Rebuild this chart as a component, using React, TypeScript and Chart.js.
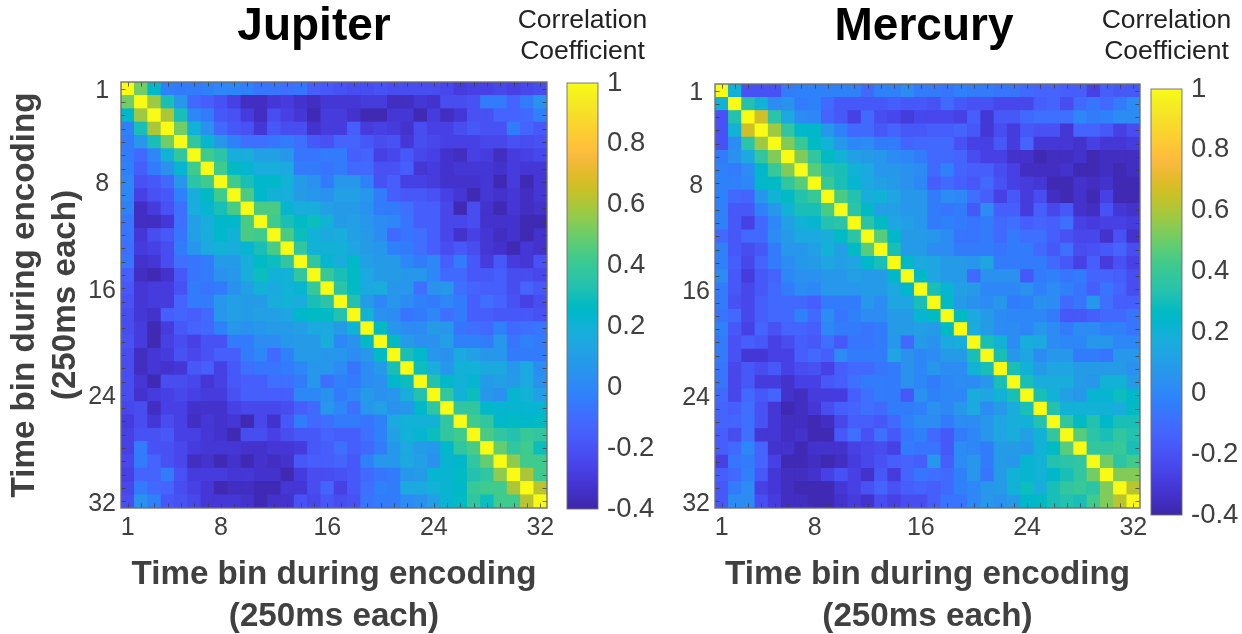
import React, { useEffect, useRef } from "react";
import { Chart, registerables } from "chart.js";

Chart.register(...registerables);

const timeBins = Array.from({ length: 32 }, (_, i) => i + 1);
const labelledBins = [1, 8, 16, 24, 32];
const diagonalValue = 100;
const colorbarTicks = { min: -0.4, max: 1, step: 0.2 };
const colorbarLabels = [-0.4, -0.2, 0, 0.2, 0.4, 0.6, 0.8, 1];
const axisTitleLines = ["Time bin during encoding", "(250ms each)"];
const colorbarTitleLines = ["Correlation", "Coefficient"];

// Upper triangle, hundredths: row i holds the correlation of bin i with bins i+1..32.
const jupiterUpper: number[][] = [
  [50,25,-2,-5,-3,-1,0,0,-2,-6,-6,-8,-7,-15,-18,-20,-22,-22,-20,-22,-22,-22,-22,-24,-28,-26,-26,-24,-26,-24,-22],
  [58,30,8,-10,-15,-20,-26,-34,-34,-30,-27,-33,-35,-31,-30,-30,-28,-28,-34,-34,-30,-33,-22,-22,-20,-5,-5,-12,-3,5],
  [60,30,0,-5,-18,-20,-27,-34,-22,-26,-30,-36,-28,-27,-33,-36,-36,-30,-30,-36,-28,-34,-30,-20,-20,-12,-12,-10,-2],
  [50,20,5,-10,-18,-20,-30,-18,-22,-22,-33,-27,-28,-14,-28,-26,-27,-32,-22,-25,-25,-22,-17,-20,-20,-5,-12,-17],
  [37,22,8,-2,-8,-9,-6,-5,-9,-16,-20,-12,-12,-18,-22,-20,-31,-22,-24,-25,-26,-25,-24,-24,-20,-22,-20],
  [42,36,18,18,12,12,8,-6,-6,-5,-4,-14,-13,-25,-24,-16,-24,-26,-33,-34,-26,-28,-34,-27,-26,-24],
  [42,27,22,18,18,15,-5,-5,-7,-5,-10,-10,-20,-20,-15,-30,-27,-32,-30,-30,-30,-32,-27,-31,-31],
  [42,32,25,25,20,10,5,-3,8,8,-2,-20,-14,-25,-26,-28,-32,-32,-32,-30,-36,-28,-36,-30],
  [45,25,20,18,10,8,5,12,12,6,-5,-15,-17,-16,-20,-26,-30,-37,-30,-33,-30,-35,-30],
  [45,45,22,18,18,12,10,10,5,-3,-3,-8,-14,-14,-23,-36,-22,-33,-36,-30,-34,-33],
  [43,30,27,28,20,10,12,8,2,1,-7,-14,-14,-24,-24,-22,-33,-33,-32,-37,-36],
  [45,28,20,15,17,12,10,3,-10,-6,-8,-14,-24,-33,-26,-30,-34,-32,-36,-33],
  [37,20,20,20,13,10,6,-2,-5,-8,-15,-22,-18,-22,-30,-33,-36,-30,-33],
  [38,22,18,24,12,9,9,0,-3,0,-14,-4,-16,-28,-16,-28,-30,-20],
  [40,30,27,15,10,9,7,6,0,-10,-10,-17,-17,-15,-22,-22,-24],
  [35,27,16,17,8,7,-8,5,6,-8,-13,-14,-14,-22,-12,-18],
  [34,9,0,6,3,-2,-3,0,-4,-14,-8,-12,-20,-25,-22],
  [20,5,3,-6,-3,0,-8,-3,-14,-14,-17,-18,-18,-20],
  [27,7,3,3,10,6,-7,-8,-10,-2,-10,-8,-7],
  [27,10,4,4,12,-2,-2,-5,8,-7,-1,-5],
  [30,24,7,5,16,12,7,8,-5,-5,-3],
  [28,18,8,20,20,16,15,7,15,3],
  [33,25,20,22,10,12,10,16,5],
  [38,20,28,8,5,22,20,12],
  [37,37,24,22,22,22,23],
  [42,38,25,27,24,26],
  [44,38,33,40,38],
  [48,38,42,28],
  [55,43,42],
  [60,42],
  [62],
];

const mercuryUpper: number[][] = [
  [20,-20,-20,-20,-4,-2,-1,-1,-2,-2,-10,-2,-2,3,-5,-5,-6,-2,-5,-4,-6,-6,-10,-13,-13,-15,-15,-25,-15,-16,-17],
  [34,20,2,4,-5,-2,-10,-16,-18,-16,-16,-14,-16,-16,-20,-10,-16,-20,-20,-23,-23,-23,-14,-12,-22,-10,-6,-11,-4,2],
  [65,35,16,3,0,-12,-16,-25,-10,-22,-24,-27,-24,-24,-24,-26,-14,-30,-18,-16,-10,-8,-9,-8,1,-3,-2,2,3],
  [58,38,24,24,6,-1,-10,-10,-17,-12,-16,-16,-14,-14,-13,-16,-30,-22,-28,-17,-20,-20,-30,-12,-12,-18,-25,-22],
  [52,40,27,20,6,0,2,-3,-5,-12,-10,-10,-10,-20,-25,-25,-18,-27,-12,-31,-31,-31,-32,-26,-30,-30,-28],
  [52,38,27,20,12,10,7,2,0,-4,-10,-10,-13,-22,-26,-26,-33,-33,-36,-34,-34,-33,-37,-35,-35,-35],
  [46,33,30,20,16,8,8,4,2,-10,-2,-12,-14,-14,-22,-26,-34,-34,-34,-32,-37,-37,-35,-36,-34],
  [40,32,22,16,12,10,4,0,-14,-10,-14,-18,-10,-20,-26,-29,-31,-37,-37,-32,-35,-32,-36,-37],
  [44,34,18,20,14,8,6,-5,2,1,-8,-14,-26,-18,-27,-22,-34,-37,-33,-36,-26,-37,-37],
  [36,27,12,12,8,6,-5,-7,-3,-16,2,-14,-14,-27,-15,-23,-17,-33,-35,-20,-31,-32],
  [36,26,14,12,8,-3,-2,-5,-7,-5,-10,-8,-14,-13,-15,-8,-26,-28,-26,-25,-27],
  [47,24,10,10,6,3,-6,-6,-5,-10,-5,-9,-9,-15,-20,-24,-24,-33,-20,-33],
  [30,10,10,3,3,-5,-4,-4,-7,-5,-5,-10,-18,-8,-22,-20,-16,-12,-22],
  [24,15,14,10,10,6,13,-3,-5,-5,-3,-10,-16,-26,-14,-28,-20,-26],
  [25,14,10,9,-10,4,4,5,-18,-5,-2,-7,-5,-12,-12,-14,-22],
  [30,22,12,10,0,0,0,4,-2,3,-2,-6,-14,-7,-12,-22],
  [27,10,4,3,7,-5,-2,4,3,-10,-7,7,-8,-15,-15],
  [26,15,10,3,1,1,0,-3,-18,-16,-14,-10,-10,-7],
  [18,10,3,3,1,6,3,-4,2,2,-2,-2,-7],
  [30,20,2,18,16,2,1,1,7,7,1,1],
  [30,8,14,2,8,7,-3,-3,-7,8,7],
  [30,20,9,14,13,10,10,10,10,5],
  [30,17,19,18,9,8,20,20,10],
  [30,20,12,6,23,23,28,24],
  [33,20,20,20,20,18,27],
  [37,27,34,25,30,30],
  [46,36,32,38,34],
  [37,37,39,30],
  [50,36,42],
  [52,52],
  [62],
];

// MATLAB parula, 64 steps
const parula: number[][] = [
  [.2422,.1504,.6603],[.2504,.165,.7076],[.2578,.1818,.7511],[.2647,.1978,.7952],[.2706,.2147,.8364],[.2751,.2342,.871],[.2783,.2559,.8991],[.2803,.2782,.9221],
  [.2813,.3006,.9414],[.281,.3228,.9579],[.2795,.3447,.9717],[.276,.3667,.9829],[.2699,.3892,.9906],[.2602,.4123,.9952],[.244,.4358,.9988],[.2206,.4603,.9973],
  [.1963,.4847,.9892],[.1834,.5074,.9798],[.1786,.5289,.9682],[.1764,.5499,.952],[.1687,.5703,.9359],[.154,.5902,.9218],[.146,.6091,.9079],[.138,.6276,.8973],
  [.1248,.6459,.8883],[.1113,.6635,.8763],[.0952,.6798,.8598],[.0689,.6948,.8394],[.0297,.7082,.8163],[.0036,.7203,.7917],[.0067,.7312,.766],[.0433,.7411,.7394],
  [.0964,.75,.712],[.1408,.7584,.6842],[.1717,.767,.6554],[.1938,.7758,.6251],[.2161,.7843,.5923],[.247,.7918,.5567],[.2906,.7973,.5188],[.3406,.8008,.4789],
  [.3909,.8029,.4354],[.4456,.8024,.3909],[.5044,.7993,.348],[.5616,.7942,.3045],[.6174,.7876,.2612],[.672,.7793,.2227],[.7242,.7698,.191],[.7738,.7598,.1646],
  [.8203,.7498,.1535],[.8634,.7406,.1596],[.9035,.733,.1774],[.9393,.7288,.21],[.9728,.7298,.2394],[.9956,.7434,.2371],[.997,.7659,.2199],[.9952,.7893,.2028],
  [.9892,.8136,.1885],[.9786,.8386,.1766],[.9676,.8639,.1643],[.961,.889,.1537],[.9597,.9135,.1423],[.9628,.9373,.1265],[.9691,.9606,.1064],[.9769,.9839,.0805],
];

const rgb = (c: number[]) => `rgb(${Math.round(c[0] * 255)},${Math.round(c[1] * 255)},${Math.round(c[2] * 255)})`;
const colorOf = (v: number) => {
  const t = Math.max(0, Math.min(1, (v - colorbarTicks.min) / (colorbarTicks.max - colorbarTicks.min)));
  return rgb(parula[Math.min(63, Math.floor(t * 64))]);
};

const cellsFrom = (upper: number[][]) => {
  const cells: { x: number; y: number; v: number }[] = [];
  timeBins.forEach((r) => {
    timeBins.forEach((c) => {
      const lo = Math.min(r, c);
      const hi = Math.max(r, c);
      const raw = lo === hi ? diagonalValue : upper[lo - 1][hi - lo - 1];
      cells.push({ x: c, y: r, v: raw / 100 });
    });
  });
  return cells;
};

const FONT = "'Liberation Sans', Arial, sans-serif";
const GREY = "#404040";

const textPlugin = {
  id: "panelText",
  afterDraw(chart: any) {
    const items = chart.options.plugins.panelText?.items ?? [];
    const { ctx } = chart;
    ctx.save();
    ctx.textAlign = "center";
    ctx.textBaseline = "middle";
    items.forEach((t: any) => {
      ctx.font = t.font;
      ctx.fillStyle = t.color;
      ctx.fillText(t.text, t.x, t.y);
    });
    ctx.restore();
  },
};

const framePlugin = {
  id: "matlabFrame",
  afterDatasetsDraw(chart: any) {
    const { ctx, chartArea: a, scales, canvas } = chart;
    ctx.save();
    ctx.beginPath();
    ctx.rect(a.left, a.top, a.width, a.height);
    ctx.clip();
    ctx.filter = "blur(0.6px)";
    ctx.drawImage(canvas, a.left, a.top, a.width, a.height, a.left, a.top, a.width, a.height);
    ctx.restore();

    ctx.save();
    ctx.strokeStyle = "rgba(60,60,60,0.75)";
    ctx.lineWidth = 1;
    ctx.beginPath();
    const len = 4.5;
    timeBins.forEach((b) => {
      const px = Math.round(scales.x.getPixelForValue(b)) + 0.5;
      const py = Math.round(scales.y.getPixelForValue(b)) + 0.5;
      ctx.moveTo(px, a.top); ctx.lineTo(px, a.top + len);
      ctx.moveTo(px, a.bottom); ctx.lineTo(px, a.bottom - len);
      ctx.moveTo(a.left, py); ctx.lineTo(a.left + len, py);
      ctx.moveTo(a.right, py); ctx.lineTo(a.right - len, py);
    });
    ctx.stroke();
    ctx.strokeStyle = "rgba(110,110,110,0.9)";
    ctx.lineWidth = 1.5;
    ctx.strokeRect(a.left, a.top, a.width, a.height);
    ctx.restore();
  },
};

type Panel = {
  name: string; upper: number[][]; hasYTitle: boolean;
  canvasLeft: number; canvasWidth: number; titleX: number;
  left: number; right: number; top: number; bottom: number;
  barLeft: number; barTop: number; barCanvasLeft: number;
};

const panels: Panel[] = [
  { name: "Jupiter", upper: jupiterUpper, hasYTitle: true, canvasLeft: 0, canvasWidth: 630, titleX: 314, left: 121, right: 547, top: 82, bottom: 508, barLeft: 567, barTop: 83, barCanvasLeft: 502 },
  { name: "Mercury", upper: mercuryUpper, hasYTitle: false, canvasLeft: 610, canvasWidth: 626, titleX: 924 - 610, left: 715, right: 1140, top: 84, bottom: 508, barLeft: 1151, barTop: 89, barCanvasLeft: 1086 },
];

const HEIGHT = 634;
const BAR_W = 31;
const BAR_H = 426;
const BAR_CANVAS_W = 156;

function heatConfig(p: Panel): any {
  const tickFont = { family: FONT, size: 25 };
  const titleFont = { family: FONT, size: 33.2, weight: "bold", lineHeight: 1.24 };
  return {
    type: "scatter",
    data: {
      datasets: [{
        data: cellsFrom(p.upper),
        pointStyle: "rect",
        borderWidth: 0,
        backgroundColor: (c: any) => colorOf(c.raw?.v ?? 0),
        pointRadius: (c: any) => ((c.chart.chartArea?.width ?? 426) / 32 / 2) * Math.SQRT2 + 0.35,
      }],
    },
    options: {
      animation: false, responsive: false, events: [],
      layout: { padding: { left: 0, right: p.canvasLeft + p.canvasWidth - p.right, top: p.top, bottom: 0 } },
      plugins: {
        legend: { display: false }, tooltip: { enabled: false }, title: { display: false },
        panelText: { items: [{ text: p.name, x: p.titleX, y: 27, color: "#000", font: `bold 46px ${FONT}` }] },
      },
      scales: {
        x: {
          type: "linear", min: 0.5, max: 32.5,
          afterBuildTicks: (s: any) => { s.ticks = labelledBins.map((value) => ({ value })); },
          afterFit: (s: any) => { s.height = HEIGHT - p.bottom; },
          grid: { display: false, drawTicks: false }, border: { display: false },
          ticks: { autoSkip: false, maxRotation: 0, color: GREY, padding: 5, font: tickFont, callback: (v: any) => String(v) },
          title: { display: true, text: axisTitleLines, color: GREY, font: titleFont, padding: { top: 0, bottom: -3 } },
        },
        y: {
          type: "linear", min: 0.5, max: 32.5, reverse: true,
          afterBuildTicks: (s: any) => { s.ticks = labelledBins.map((value) => ({ value })); },
          afterFit: (s: any) => { s.width = p.left - p.canvasLeft; },
          grid: { display: false, drawTicks: false }, border: { display: false },
          ticks: { autoSkip: false, maxRotation: 0, color: GREY, padding: 5, crossAlign: "center", labelOffset: 2.5, font: tickFont, callback: (v: any) => String(v) },
          title: { display: p.hasYTitle, text: axisTitleLines, color: GREY, font: titleFont, padding: { top: 4, bottom: 0 } },
        },
      },
    },
    plugins: [framePlugin, textPlugin],
  };
}

function barConfig(p: Panel): any {
  const stops = parula;
  const titleX = p.barLeft + 15.5 - p.barCanvasLeft;
  return {
    type: "bar",
    data: {
      labels: ["r"],
      datasets: [{
        data: [[colorbarTicks.min, colorbarTicks.max]],
        barPercentage: 1, categoryPercentage: 1, borderWidth: 0,
        backgroundColor: (c: any) => {
          const a = c.chart.chartArea;
          if (!a) return "#000";
          const g = c.chart.ctx.createLinearGradient(0, a.bottom, 0, a.top);
          stops.forEach((s, i) => g.addColorStop(i / (stops.length - 1), rgb(s)));
          return g;
        },
      }],
    },
    options: {
      animation: false, responsive: false, events: [],
      layout: { padding: { left: p.barLeft - p.barCanvasLeft, right: 0, top: p.barTop, bottom: HEIGHT - p.barTop - BAR_H } },
      plugins: {
        legend: { display: false }, tooltip: { enabled: false }, title: { display: false },
        panelText: {
          items: colorbarTitleLines.map((text, i) => ({ text, x: titleX, y: 21 + i * 31, color: "#222", font: `26.5px ${FONT}` })),
        },
      },
      scales: {
        x: { display: false },
        y: {
          position: "right", min: colorbarTicks.min, max: colorbarTicks.max,
          afterBuildTicks: (s: any) => { s.ticks = colorbarLabels.map((value) => ({ value })); },
          afterFit: (s: any) => { s.width = BAR_CANVAS_W - (p.barLeft - p.barCanvasLeft) - BAR_W; },
          grid: { display: false, drawTicks: false },
          border: { display: false },
          ticks: { color: GREY, padding: 9, font: { family: FONT, size: 27.5 }, callback: (v: any) => String(Math.round(v * 10) / 10) },
        },
      },
    },
    plugins: [{
      id: "barFrame",
      afterDatasetsDraw(chart: any) {
        const { ctx, chartArea: a } = chart;
        ctx.save();
        ctx.strokeStyle = "rgba(110,110,110,0.9)";
        ctx.lineWidth = 1;
        ctx.strokeRect(a.left, a.top, a.width, a.height);
        ctx.restore();
      },
    }, textPlugin],
  };
}

function Canvas({ config, left, width }: { config: any; left: number; width: number }) {
  const ref = useRef<HTMLCanvasElement>(null);
  useEffect(() => {
    const chart = new Chart(ref.current as HTMLCanvasElement, config);
    return () => chart.destroy();
  }, []);
  return <canvas ref={ref} width={width} height={HEIGHT} style={{ position: "absolute", left, top: 0, width, height: HEIGHT }} />;
}

export default function App() {
  return (
    <div style={{ position: "absolute", left: 0, top: 0, width: 1242, height: HEIGHT, background: "#fff", overflow: "hidden" }}>
      {panels.map((p) => (
        <React.Fragment key={p.name}>
          <Canvas config={heatConfig(p)} left={p.canvasLeft} width={p.canvasWidth} />
          <Canvas config={barConfig(p)} left={p.barCanvasLeft} width={BAR_CANVAS_W} />
        </React.Fragment>
      ))}
    </div>
  );
}
